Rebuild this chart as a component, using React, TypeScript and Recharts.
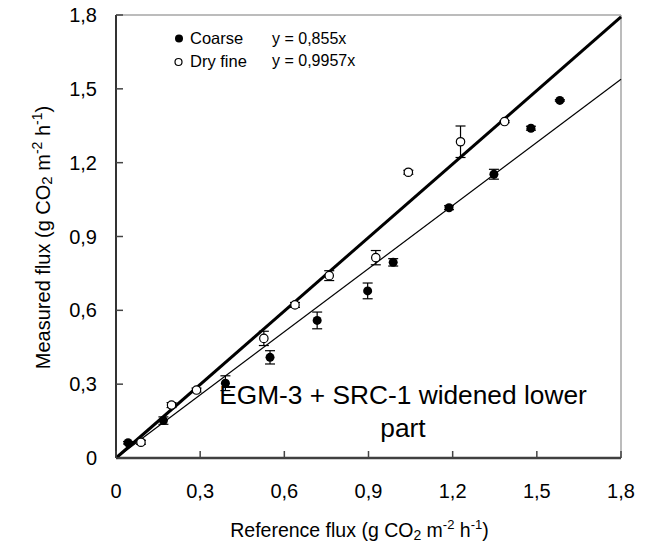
import React from 'react';
import { ScatterChart, Scatter, XAxis, YAxis, ErrorBar, ReferenceLine, Customized } from 'recharts';

const coarseX = [0.043, 0.169, 0.39, 0.549, 0.717, 0.897, 0.988, 1.187, 1.347, 1.479, 1.582];
const coarseY = [0.062, 0.152, 0.304, 0.409, 0.559, 0.679, 0.795, 1.017, 1.153, 1.34, 1.453];
const coarseErr = [0.005, 0.015, 0.03, 0.027, 0.034, 0.032, 0.015, 0.008, 0.02, 0.008, 0.003];

const dryX = [0.089, 0.198, 0.287, 0.527, 0.638, 0.76, 0.926, 1.042, 1.228, 1.385];
const dryY = [0.064, 0.215, 0.276, 0.486, 0.622, 0.741, 0.814, 1.161, 1.285, 1.367];
const dryErr = [0.008, 0.01, 0.008, 0.029, 0.01, 0.02, 0.029, 0.008, 0.064, 0.004];

// Fit line end points
const dryFitX = [0, 1.8];
const dryFitY = [0, 1.792];
const coarseFitX = [0, 1.8];
const coarseFitY = [0, 1.539];

const axisTicks = [0, 0.3, 0.6, 0.9, 1.2, 1.5, 1.8];
const axisTickLabels = ['0', '0,3', '0,6', '0,9', '1,2', '1,5', '1,8'];

const legendNames = ['Coarse', 'Dry fine'];
const legendEquations = ['y = 0,855x', 'y = 0,9957x'];
const annotationLines = ['EGM-3 + SRC-1 widened lower', 'part'];

const FONT = '"Liberation Sans", Arial, sans-serif';

const coarseData = coarseX.map((x, i) => ({ x, y: coarseY[i], err: coarseErr[i] }));
const dryData = dryX.map((x, i) => ({ x, y: dryY[i], err: dryErr[i] }));
const dryFit = dryFitX.map((x, i) => ({ x, y: dryFitY[i] }));
const coarseFit = coarseFitX.map((x, i) => ({ x, y: coarseFitY[i] }));

const labelFor = (v: number) => {
  const idx = axisTicks.findIndex((t) => Math.abs(t - v) < 1e-6);
  return idx >= 0 ? axisTickLabels[idx] : String(v);
};

const XTick = (props: any) => {
  const { x, y, payload } = props;
  return (
    <g>
      <line x1={x} y1={y} x2={x} y2={y - 7} stroke="#444" strokeWidth={1.5} />
      <text x={x} y={y + 40} textAnchor="middle" fontSize={20} fontFamily={FONT} fill="#000">
        {labelFor(payload.value)}
      </text>
    </g>
  );
};

const YTick = (props: any) => {
  const { x, y, payload } = props;
  return (
    <g>
      <line x1={x} y1={y} x2={x + 7} y2={y} stroke="#444" strokeWidth={1.5} />
      <text x={x - 19} y={y + 7} textAnchor="end" fontSize={20} fontFamily={FONT} fill="#000">
        {labelFor(payload.value)}
      </text>
    </g>
  );
};

const XLabel = (props: any) => {
  const vb = props.viewBox || { x: 116, y: 458, width: 505, height: 89 };
  const cx = vb.x + vb.width / 2 - 9;
  const by = vb.y + 79;
  return (
    <text x={cx} y={by} textAnchor="middle" fontSize={19.5} fontFamily={FONT} fill="#000">
      Reference flux (g CO
      <tspan fontSize={14} dy={3}>2</tspan>
      <tspan dy={-3}> m</tspan>
      <tspan fontSize={13} dy={-8}>-2</tspan>
      <tspan dy={8}> h</tspan>
      <tspan fontSize={13} dy={-8}>-1</tspan>
      <tspan dy={8}>)</tspan>
    </text>
  );
};

const YLabel = (props: any) => {
  const vb = props.viewBox || { x: 0, y: 15, width: 116, height: 443 };
  const bx = vb.x + 50;
  const cy = vb.y + vb.height / 2 + 1;
  return (
    <text
      x={bx}
      y={cy}
      transform={`rotate(-90, ${bx}, ${cy})`}
      textAnchor="middle"
      fontSize={20}
      fontFamily={FONT}
      fill="#000"
    >
      Measured flux (g CO
      <tspan fontSize={15} dy={2}>2</tspan>
      <tspan dy={-2}> m</tspan>
      <tspan fontSize={14} dy={-8}>-2</tspan>
      <tspan dy={8}> h</tspan>
      <tspan fontSize={14} dy={-8}>-1</tspan>
      <tspan dy={8}>)</tspan>
    </text>
  );
};

const Extras = () => (
  <g fontFamily={FONT} fill="#000">
    <circle cx={179} cy={38.5} r={4} fill="#000" />
    <text x={190} y={44} fontSize={16.5}>{legendNames[0]}</text>
    <text x={272} y={44} fontSize={16}>{legendEquations[0]}</text>
    <circle cx={178.5} cy={62} r={3.5} fill="#fff" stroke="#000" strokeWidth={1.2} />
    <text x={190} y={67} fontSize={16.5}>{legendNames[1]}</text>
    <text x={272} y={66} fontSize={16}>{legendEquations[1]}</text>
    <text x={403} y={404} fontSize={26.3} textAnchor="middle">{annotationLines[0]}</text>
    <text x={403} y={437} fontSize={26.3} textAnchor="middle">{annotationLines[1]}</text>
  </g>
);

const FilledDot = (p: any) => <circle cx={p.cx} cy={p.cy} r={4.5} fill="#000" />;
const OpenDot = (p: any) => <circle cx={p.cx} cy={p.cy} r={4.2} fill="#fff" stroke="#000" strokeWidth={1.2} />;
const NoDot = () => <g />;

export default function App() {
  return (
    <div style={{ position: 'absolute', left: 0, top: 0, width: 646, height: 547, background: '#fff' }}>
      <ScatterChart width={646} height={547} margin={{ top: 15, right: 25, bottom: 0, left: 0 }}>
        <XAxis
          type="number"
          dataKey="x"
          domain={[0, 1.8]}
          ticks={axisTicks}
          interval={0}
          height={89}
          tickSize={0}
          tickMargin={0}
          tickLine={false}
          tick={<XTick />}
          axisLine={{ stroke: '#404040', strokeWidth: 2.5 }}
          label={<XLabel />}
        />
        <YAxis
          type="number"
          dataKey="y"
          domain={[0, 1.8]}
          ticks={axisTicks}
          interval={0}
          width={116}
          tickSize={0}
          tickMargin={0}
          tickLine={false}
          tick={<YTick />}
          axisLine={{ stroke: '#333', strokeWidth: 2 }}
          label={<YLabel />}
        />
        <ReferenceLine y={1.8} stroke="#a6a6a6" strokeWidth={1.5} />
        <ReferenceLine x={1.8} stroke="#a6a6a6" strokeWidth={1.5} />
        <Scatter
          name="Dry fine fit"
          data={dryFit}
          fill="#000"
          line={{ stroke: '#000', strokeWidth: 3 }}
          shape={NoDot}
          isAnimationActive={false}
        />
        <Scatter
          name="Coarse fit"
          data={coarseFit}
          fill="#000"
          line={{ stroke: '#000', strokeWidth: 1.2 }}
          shape={NoDot}
          isAnimationActive={false}
        />
        <Scatter name="Coarse" data={coarseData} fill="#000" shape={FilledDot} isAnimationActive={false}>
          <ErrorBar dataKey="err" direction="y" width={5} stroke="#000" strokeWidth={1.2} />
        </Scatter>
        <Scatter name="Dry fine" data={dryData} fill="#000" shape={OpenDot} isAnimationActive={false}>
          <ErrorBar dataKey="err" direction="y" width={5} stroke="#000" strokeWidth={1.2} />
        </Scatter>
        <Customized component={Extras} />
      </ScatterChart>
    </div>
  );
}
